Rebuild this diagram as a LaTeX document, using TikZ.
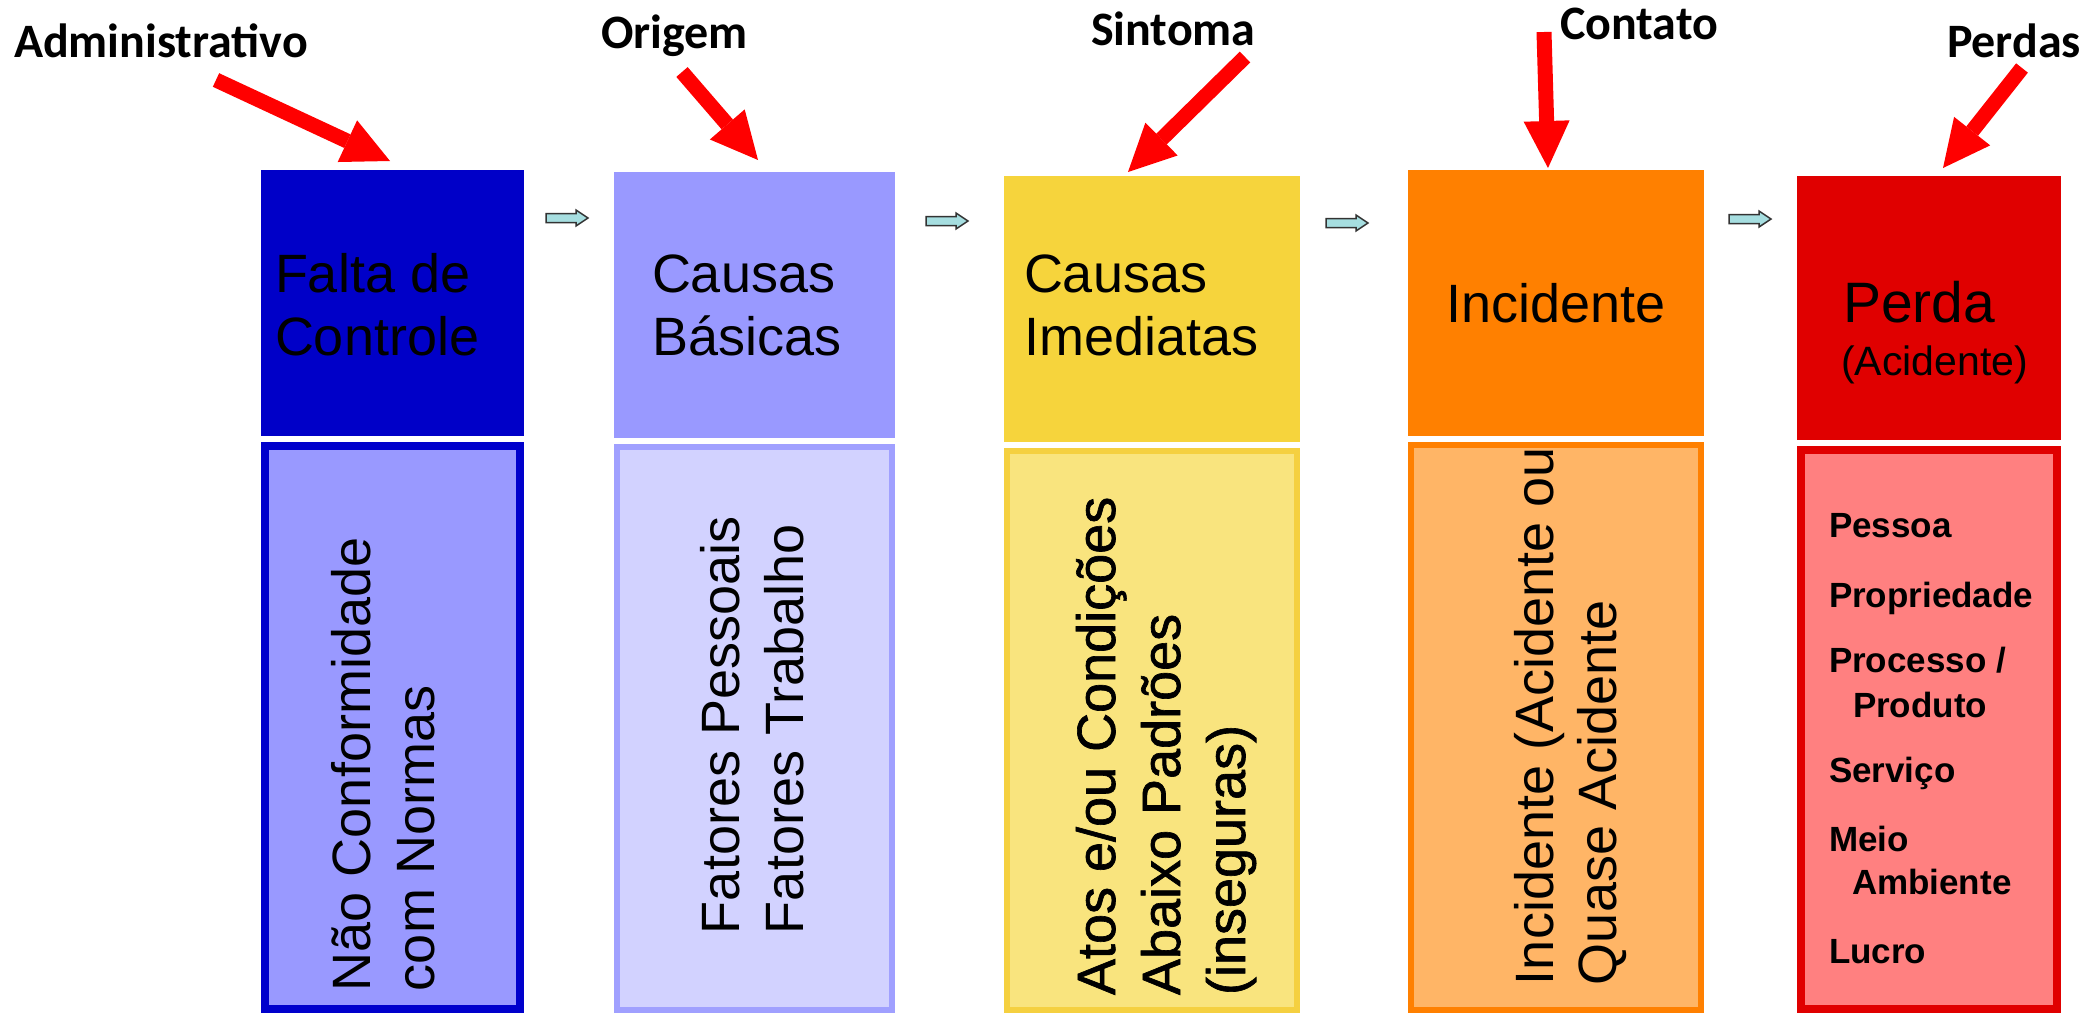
\documentclass[tikz,border=0pt]{standalone}
\usepackage{fontspec}
\setmainfont{Liberation Sans}
\newfontfamily\labfont{Carlito}
\newfontfamily\heavyfont[FakeBold=1.2]{Liberation Sans}
\usetikzlibrary{arrows.meta,calc}
\definecolor{cAtop}{HTML}{0000C8}
\definecolor{cAline}{HTML}{0000CC}
\definecolor{cAfill}{HTML}{9999FF}
\definecolor{cBtop}{HTML}{9999FF}
\definecolor{cBline}{HTML}{A0A0FF}
\definecolor{cBfill}{HTML}{D2D2FF}
\definecolor{cCtop}{HTML}{F6D43C}
\definecolor{cCline}{HTML}{F5D040}
\definecolor{cCfill}{HTML}{F9E47E}
\definecolor{cDtop}{HTML}{FF8000}
\definecolor{cDline}{HTML}{FF8000}
\definecolor{cDfill}{HTML}{FFB566}
\definecolor{cEtop}{HTML}{E00000}
\definecolor{cEline}{HTML}{E00000}
\definecolor{cEfill}{HTML}{FF8080}
\definecolor{arrcyan}{HTML}{A6DEE0}
\begin{document}
\begin{tikzpicture}[x=1pt,y=-1pt,
  topbox/.style={draw=none, inner sep=0pt, outer sep=0pt, anchor=north west},
  lowbox/.style={inner sep=0pt, outer sep=0pt, anchor=north west},
  boxtext/.style={inner sep=0pt, outer sep=0pt, font=\fontsize{54}{63}\selectfont, align=left, anchor=base west},
  vtext/.style={boxtext, rotate=90, font=\fontsize{54}{64}\selectfont},
  listtext/.style={inner sep=0pt, outer sep=0pt, font=\bfseries\fontsize{35}{45}\selectfont, align=left, anchor=base west},
  lab/.style={inner sep=0pt, outer sep=0pt, font=\labfont\bfseries\fontsize{48}{52}\selectfont, anchor=base west},
  bigarrow/.style={draw=red, line width=15pt, -{Triangle[length=47pt,width=46pt,line width=0pt]}},
  smallarr/.pic={\draw[fill=arrcyan, draw=black!80, line width=1.5pt, line join=miter]
      (0,-4.5) -- (30,-4.5) -- (30,-8) -- (42,0) -- (30,8) -- (30,4.5) -- (0,4.5) -- cycle;}
  ]
\useasboundingbox (0,0) rectangle (2097,1015);

% top boxes
\node[topbox, fill=cAtop, minimum width=263pt, minimum height=266pt] (t1) at (261,170) {};
\node[topbox, fill=cBtop, minimum width=281pt, minimum height=266pt] (t2) at (614,172) {};
\node[topbox, fill=cCtop, minimum width=296pt, minimum height=266pt] (t3) at (1004,176) {};
\node[topbox, fill=cDtop, minimum width=296pt, minimum height=266pt] (t4) at (1408,170) {};
\node[topbox, fill=cEtop, minimum width=264pt, minimum height=264pt] (t5) at (1797,176) {};

% lower boxes
\node[lowbox, draw=cAline, fill=cAfill, line width=8pt, minimum width=255pt, minimum height=563pt] (l1) at (265,446) {};
\node[lowbox, draw=cBline, fill=cBfill, line width=6pt, minimum width=275pt, minimum height=563pt] (l2) at (617,447) {};
\node[lowbox, draw=cCline, fill=cCfill, line width=6pt, minimum width=290pt, minimum height=559pt] (l3) at (1007,451) {};
\node[lowbox, draw=cDline, fill=cDfill, line width=6pt, minimum width=290pt, minimum height=565pt] (l4) at (1411,445) {};
\node[lowbox, draw=cEline, fill=cEfill, line width=8pt, minimum width=256pt, minimum height=559pt] (l5) at (1801,450) {};

% top box texts (anchor = baseline of last line)
\node[boxtext] (tx1) at (275,355) {Falta de\\Controle};
\node[boxtext] (tx2) at (652,355) {Causas\\Básicas};
\node[boxtext] (tx3) at (1024,355) {Causas\\Imediatas};
\node[boxtext] (tx4) at (1446,322) {Incidente};
\node[boxtext, font=\fontsize{57}{63}\selectfont] (tx5) at (1843,322) {Perda};
\node[boxtext, font=\fontsize{41}{48}\selectfont] (tx5b) at (1841,375) {(Acidente)};

% lower texts (anchor = baseline of last line)
\node[vtext] (lx1) at (434,991) {Não Conformidade\\com Normas};
\node[vtext] (lx2) at (803,934) {Fatores Pessoais\\Fatores Trabalho};
\node[vtext, font=\heavyfont\fontsize{54}{65}\selectfont] (lx3) at (1245,995) {Atos e/ou Condições\\Abaixo Padrões\\(inseguras)};
\node[vtext, font=\fontsize{54}{63}\selectfont] (lx4) at (1616,985) {Incidente (Acidente ou\\Quase Acidente};
\node[listtext] (lx5) at (1829,963) {Pessoa\\[25pt]Propriedade\\[20pt]Processo /\\\hspace*{24pt}Produto\\[20pt]Serviço\\[24pt]Meio\\[-2pt]\hspace*{23pt}Ambiente\\[24pt]Lucro};

% small flow arrows
\pic (s1) at (546,218) {smallarr};
\pic (s2) at (926,221) {smallarr};
\pic (s3) at (1326,223) {smallarr};
\pic (s4) at (1729,219) {smallarr};

% labels
\node[lab] (n1) at (14,57) {Administrativo};
\node[lab] (n2) at (601,48) {Origem};
\node[lab] (n3) at (1091,45) {Sintoma};
\node[lab] (n4) at (1560,39) {Contato};
\node[lab] (n5) at (1947,57) {Perdas};

% red arrows
\coordinate (a1) at (216,80);
\coordinate (a2) at (682,72);
\coordinate (a3) at (1245,57);
\coordinate (a4) at (1544,32);
\coordinate (a5) at (2022,68);
\draw[bigarrow] (a1) -- ($(t1.north)+(-2.5,-9)$);
\draw[bigarrow] (a2) -- ($(t2.north)+(3.5,-12)$);
\draw[bigarrow] (a3) -- ($(t3.north)+(-24,-4)$);
\draw[bigarrow] (a4) -- ($(t4.north)+(-8,-2)$);
\draw[bigarrow] (a5) -- ($(t5.north)+(14,-8)$);
\end{tikzpicture}
\end{document}
